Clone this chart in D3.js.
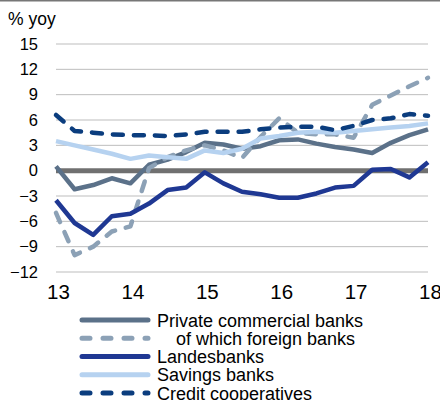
<!DOCTYPE html>
<html>
<head>
<meta charset="utf-8">
<script src="https://cdn.jsdelivr.net/npm/d3@7"></script>
<style>
  html, body { margin: 0; padding: 0; background: #fff; }
  svg { display: block; font-family: "Liberation Sans", Arial, sans-serif; }
</style>
</head>
<body>
<svg id="chart" width="440" height="400"></svg>
<script>
// ---- data ----
const quarters = [2013.0, 2013.25, 2013.5, 2013.75, 2014.0, 2014.25, 2014.5, 2014.75,
  2015.0, 2015.25, 2015.5, 2015.75, 2016.0, 2016.25, 2016.5, 2016.75,
  2017.0, 2017.25, 2017.5, 2017.75, 2018.0];
const privateBanks = [0.5, -2.2, -1.7, -0.9, -1.5, 0.7, 1.3, 2.2, 3.3, 3.1, 2.6, 2.9, 3.6, 3.7, 3.2, 2.8, 2.5, 2.1, 3.3, 4.2, 4.9];
const foreignBanks = [-5.0, -10.0, -9.0, -7.2, -6.6, 0.3, 1.6, 2.4, 3.0, 2.4, 1.5, 4.0, 6.2, 4.5, 4.3, 4.3, 3.9, 7.8, 8.9, 10.0, 11.0];
const landesbanks = [-3.5, -6.2, -7.6, -5.4, -5.1, -3.9, -2.3, -2.0, -0.2, -1.5, -2.5, -2.8, -3.2, -3.2, -2.7, -2.0, -1.8, 0.1, 0.2, -0.8, 1.0];
const savingsBanks = [3.5, 3.0, 2.5, 2.0, 1.4, 1.8, 1.6, 1.4, 2.4, 2.1, 2.6, 3.8, 4.1, 4.5, 4.6, 4.5, 4.7, 4.9, 5.1, 5.3, 5.6];
const creditCoops = [6.6, 4.7, 4.5, 4.3, 4.2, 4.2, 4.1, 4.3, 4.6, 4.6, 4.6, 4.9, 5.1, 5.2, 5.2, 4.8, 5.3, 6.0, 6.2, 6.7, 6.5];
const yTicks = [15, 12, 9, 6, 3, 0, -3, -6, -9, -12];
const xTicks = [2013, 2014, 2015, 2016, 2017, 2018];
const xTickLabels = ["13", "14", "15", "16", "17", "18"];
const seriesNames = ["Private commercial banks", "of which foreign banks", "Landesbanks", "Savings banks", "Credit cooperatives"];

// ---- styles ----
const seriesDefs = [
  { name: seriesNames[0], values: privateBanks, color: "#5b7189", dash: null },
  { name: seriesNames[1], values: foreignBanks, color: "#8ca1b6", dash: "10,11" },
  { name: seriesNames[2], values: landesbanks, color: "#1f3893", dash: null },
  { name: seriesNames[3], values: savingsBanks, color: "#b6d2f0", dash: null },
  { name: seriesNames[4], values: creditCoops, color: "#0b3d7e", dash: "10,11" }
];

const svg = d3.select("#chart");
const x = d3.scaleLinear().domain([2013, 2018]).range([56, 428]);
const y = d3.scaleLinear().domain([-12, 15]).range([272, 44]);

// top border line
svg.append("line").attr("x1", 0).attr("x2", 440).attr("y1", 0.75).attr("y2", 0.75)
  .attr("stroke", "#777").attr("stroke-width", 1.5);

// gridlines
svg.append("g").selectAll("line").data(yTicks.filter(d => d !== 0)).join("line")
  .attr("x1", x(2013)).attr("x2", x(2018))
  .attr("y1", d => y(d)).attr("y2", d => y(d))
  .attr("stroke", "#bdbdbd").attr("stroke-width", 1);

// zero line
svg.append("line").attr("x1", x(2013)).attr("x2", x(2018))
  .attr("y1", y(0)).attr("y2", y(0)).attr("stroke", "#707070").attr("stroke-width", 5);

// y axis labels
const yAxis = d3.axisLeft(y).tickValues(yTicks).tickSize(0).tickPadding(0).tickFormat(d3.format("d"));
const yg = svg.append("g").attr("transform", "translate(38,0)").call(yAxis);
yg.select(".domain").remove();
yg.selectAll("text").attr("font-size", 16.5).attr("fill", "#000")
  .attr("font-family", "'Liberation Sans', Arial, sans-serif");

svg.append("text").attr("x", 8).attr("y", 25).attr("font-size", 17.5).attr("fill", "#000").text("% yoy");

// x axis labels
const xAxis = d3.axisBottom(x).tickValues(xTicks).tickSize(0).tickPadding(0)
  .tickFormat((d, i) => xTickLabels[i]);
const xg = svg.append("g").attr("transform", "translate(2,284)").call(xAxis);
xg.select(".domain").remove();
xg.selectAll("text").attr("font-size", 20.5).attr("fill", "#000").attr("dy", "0.71em")
  .attr("font-family", "'Liberation Sans', Arial, sans-serif");

// series lines
const line = d3.line().x((d, i) => x(quarters[i])).y(d => y(d));
svg.append("g").selectAll("path").data(seriesDefs).join("path")
  .attr("d", d => line(d.values))
  .attr("fill", "none")
  .attr("stroke", d => d.color)
  .attr("stroke-width", 4.5)
  .attr("stroke-linejoin", "round")
  .attr("stroke-linecap", d => d.dash ? "round" : "butt")
  .attr("stroke-dasharray", d => d.dash);

// legend
const legend = svg.append("g");
const rowY = d3.scalePoint().domain(seriesNames).range([320, 393]);
const lg = legend.selectAll("g").data(seriesDefs).join("g")
  .attr("transform", d => `translate(0,${rowY(d.name)})`);
lg.append("line").attr("x1", 82).attr("x2", 148).attr("y1", 0).attr("y2", 0)
  .attr("stroke", d => d.color).attr("stroke-width", 5)
  .attr("stroke-linecap", "round")
  .attr("stroke-dasharray", d => d.dash ? "8,13" : null);
lg.append("text").attr("x", (d, i) => i === 1 ? 176 : 157).attr("y", 6.5)
  .attr("font-size", 18).attr("fill", "#000").text(d => d.name);
</script>
</body>
</html>
